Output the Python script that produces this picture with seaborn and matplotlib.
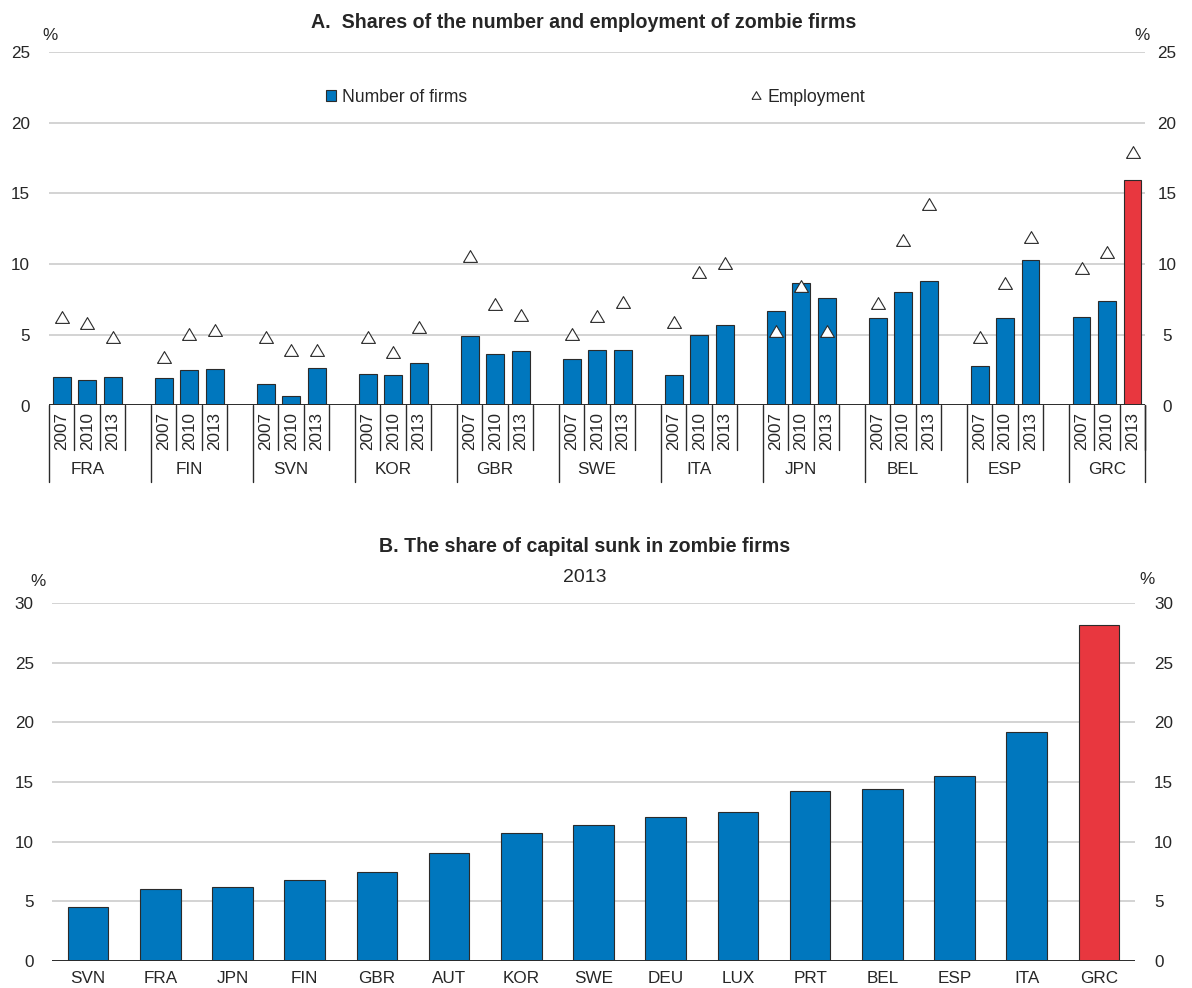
import numpy as np
import pandas as pd
import matplotlib
matplotlib.use("Agg")
import matplotlib.pyplot as plt
import matplotlib.transforms as mtransforms
from matplotlib.patches import Patch
from matplotlib.lines import Line2D
import seaborn as sns

# ---------------- data ----------------
groups = ["FRA", "FIN", "SVN", "KOR", "GBR", "SWE", "ITA", "JPN", "BEL", "ESP", "GRC"]
years = ["2007", "2010", "2013"]

firms_2007 = [2.05, 1.93, 1.55, 2.21, 4.92, 3.27, 2.17, 6.71, 6.17, 2.78, 6.27]
firms_2010 = [1.81, 2.50, 0.66, 2.14, 3.63, 3.93, 4.97, 8.65, 8.01, 6.17, 7.37]
firms_2013 = [2.00, 2.57, 2.64, 2.99, 3.84, 3.91, 5.72, 7.61, 8.81, 10.32, 15.95]

emp_2007 = [6.24, 3.44, 4.81, 4.83, 10.60, 5.09, 5.91, 5.28, 7.28, 4.81, 9.75]
emp_2010 = [5.85, 5.09, 3.91, 3.77, 7.16, 6.36, 9.47, 8.46, 11.73, 8.67, 10.84]
emp_2013 = [4.83, 5.32, 3.96, 5.58, 6.41, 7.35, 10.06, 5.28, 14.25, 11.90, 17.93]

capital_countries = ["SVN", "FRA", "JPN", "FIN", "GBR", "AUT", "KOR", "SWE",
                     "DEU", "LUX", "PRT", "BEL", "ESP", "ITA", "GRC"]
capital_share = [4.53, 6.02, 6.19, 6.80, 7.50, 9.07, 10.69, 11.42,
                 12.09, 12.45, 14.22, 14.44, 15.48, 19.17, 28.16]

highlight_country = "GRC"
highlight_year = "2013"

# ---------------- style ----------------
BLUE = "#0077BE"
RED = "#E8373F"
EDGE = "#2B2B2B"
GRID = "#D0D0D0"
TEXT = "#262626"
FS = 12.3       # tick / category labels
FS_LEG = 12.7   # legend
FS_TITLE = 14.1 # panel titles
FS_SUB = 14.0   # subtitle

sns.set_theme(style="white")
plt.rcParams["font.family"] = ["Liberation Sans", "DejaVu Sans"]
plt.rcParams["text.color"] = TEXT
plt.rcParams["xtick.color"] = TEXT
plt.rcParams["ytick.color"] = TEXT

W, H = 1192, 988
fig = plt.figure(figsize=(W / 100, H / 100), dpi=100)
fig.patch.set_facecolor("white")


def fx(px):
    return px / W


def fy(py):
    return 1 - py / H


axA = fig.add_axes([fx(49), fy(405.5), fx(1145.3) - fx(49), fy(52) - fy(405.5)])
axB = fig.add_axes([fx(52), fy(961), fx(1135) - fx(52), fy(603) - fy(961)])

tri = [(-1, -0.85), (1, -0.85), (0, 0.85), (-1, -0.85)]

# ---------------- panel A ----------------
firms_by_year = [firms_2007, firms_2010, firms_2013]
emp_by_year = [emp_2007, emp_2010, emp_2013]
rows = []
for g, grp in enumerate(groups):
    for j, yr in enumerate(years):
        rows.append(dict(group=grp, year=yr, slot=4 * g + j,
                         firms=firms_by_year[j][g], emp=emp_by_year[j][g],
                         hl="yes" if (grp == highlight_country and yr == highlight_year) else "no"))
dfA = pd.DataFrame(rows)

sns.barplot(data=dfA, x="slot", y="firms", hue="hl", palette={"no": BLUE, "yes": RED},
            native_scale=True, width=0.7, dodge=False, legend=False, saturation=1,
            edgecolor=EDGE, linewidth=0.8, ax=axA, zorder=3)
sns.scatterplot(data=dfA, x="slot", y="emp", marker=tri, s=100, color="white",
                edgecolor=EDGE, linewidth=0.8, ax=axA, zorder=5, legend=False)

axA.set_xlim(-0.5, 42.5)
axA.set_ylim(0, 25)
axA.set_yticks(np.arange(0, 26, 5))
axA.yaxis.grid(True, color=GRID, lw=1.3)
axA.xaxis.grid(False)
axA.set_axisbelow(True)
for s in axA.spines.values():
    s.set_visible(False)
axA.axhline(0, color=EDGE, lw=1.4, zorder=6)
axA.set_xlabel("")
axA.set_ylabel("")
axA.set_xticks(dfA["slot"])
axA.set_xticklabels(dfA["year"], rotation=90, fontsize=FS)
axA.tick_params(axis="x", length=0, pad=4.5)
axA.tick_params(axis="y", length=0, labelsize=FS, pad=13.7)

axA2 = axA.twinx()
axA2.set_ylim(0, 25)
axA2.set_yticks(np.arange(0, 26, 5))
axA2.tick_params(axis="y", length=0, labelsize=FS, pad=15.6)
for lab in axA2.get_yticklabels():
    lab.set_horizontalalignment("center")
for s in axA2.spines.values():
    s.set_visible(False)
axA2.grid(False)

trans = mtransforms.blended_transform_factory(axA.transData, axA.transAxes)
for g, grp in enumerate(groups):
    axA.plot([4 * g - 0.5] * 2, [0, -0.215], transform=trans, clip_on=False, color=EDGE, lw=1.0)
    for j in range(3):
        axA.plot([4 * g + j + 0.5] * 2, [0, -0.127], transform=trans, clip_on=False, color=EDGE, lw=1.0)
    axA.text(4 * g + 1, -0.18, grp, transform=trans, ha="center", va="center", fontsize=FS)
axA.plot([42.5] * 2, [0, -0.215], transform=trans, clip_on=False, color=EDGE, lw=1.0)

fig.text(fx(584), fy(23), "A.  Shares of the number and employment of zombie firms",
         ha="center", va="center", fontsize=FS_TITLE, fontweight="bold")
fig.text(fx(50), fy(36), "%", ha="center", va="center", fontsize=FS)
fig.text(fx(1142), fy(36), "%", ha="center", va="center", fontsize=FS)

fig.legend(handles=[Patch(facecolor=BLUE, edgecolor=EDGE, lw=0.8)], labels=["Number of firms"],
           loc="center left", bbox_to_anchor=(fx(326), fy(97)), frameon=False, fontsize=FS_LEG,
           handlelength=0.58, handleheight=0.58, handletextpad=0.35, borderpad=0, borderaxespad=0)
fig.legend(handles=[Line2D([], [], marker=tri, ls="none", mfc="white", mec=EDGE, mew=0.8, ms=6.5)],
           labels=["Employment"], loc="center left", bbox_to_anchor=(fx(750), fy(97)), frameon=False,
           fontsize=FS_LEG, handlelength=0.7, handletextpad=0.3, borderpad=0, borderaxespad=0)

# ---------------- panel B ----------------
dfB = pd.DataFrame({"country": capital_countries, "share": capital_share})
dfB["hl"] = np.where(dfB["country"] == highlight_country, "yes", "no")
sns.barplot(data=dfB, x="country", y="share", hue="hl", palette={"no": BLUE, "yes": RED},
            width=0.56, dodge=False, legend=False, saturation=1, edgecolor=EDGE, linewidth=0.8,
            ax=axB, zorder=3)
axB.set_xlim(-0.5, len(capital_countries) - 0.5)
axB.set_ylim(0, 30)
axB.set_yticks(np.arange(0, 31, 5))
axB.yaxis.grid(True, color=GRID, lw=1.3)
axB.xaxis.grid(False)
axB.set_axisbelow(True)
for s in axB.spines.values():
    s.set_visible(False)
axB.axhline(0, color=EDGE, lw=1.4, zorder=6)
axB.set_xlabel("")
axB.set_ylabel("")
axB.tick_params(axis="x", length=0, pad=7.5, labelsize=FS)
axB.tick_params(axis="y", length=0, labelsize=FS, pad=13.2)

axB2 = axB.twinx()
axB2.set_ylim(0, 30)
axB2.set_yticks(np.arange(0, 31, 5))
axB2.tick_params(axis="y", length=0, labelsize=FS, pad=13.7)
for s in axB2.spines.values():
    s.set_visible(False)
axB2.grid(False)

fig.text(fx(585), fy(547), "B. The share of capital sunk in zombie firms",
         ha="center", va="center", fontsize=FS_TITLE, fontweight="bold")
fig.text(fx(585), fy(577), "2013", ha="center", va="center", fontsize=FS_SUB)
fig.text(fx(38), fy(582), "%", ha="center", va="center", fontsize=FS)
fig.text(fx(1147), fy(579), "%", ha="center", va="center", fontsize=FS)

fig.savefig("out.png", dpi=100, facecolor="white")
